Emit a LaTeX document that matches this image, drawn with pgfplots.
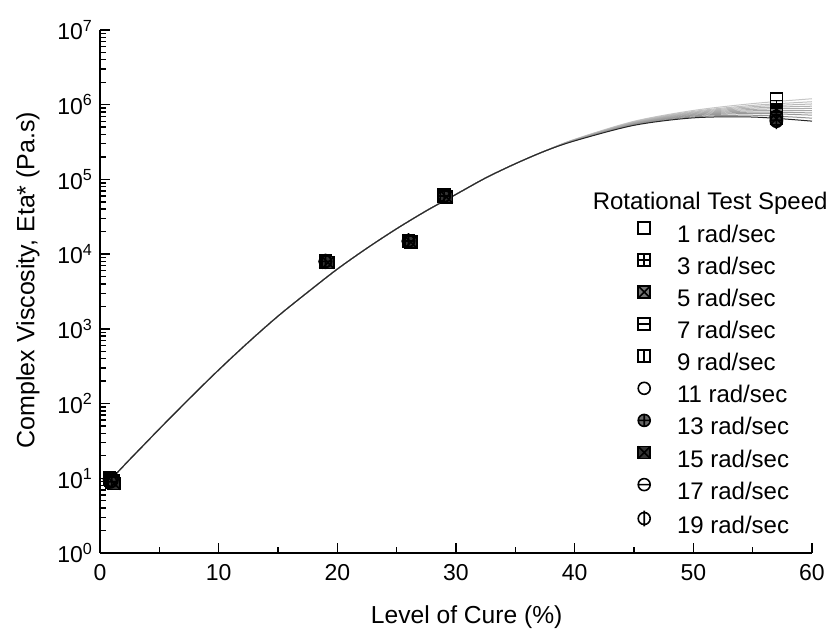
\documentclass[border=0pt]{standalone}
\usepackage{fontspec}
\setmainfont{Liberation Sans}
\usepackage{pgfplots}
\usepackage{pgfplotstable}
\pgfplotsset{compat=1.18}
\usetikzlibrary{plotmarks}

\pgfdeclareplotmark{sqplus}{%
  \pgfpathrectangle{\pgfqpoint{-\pgfplotmarksize}{-\pgfplotmarksize}}{\pgfqpoint{2\pgfplotmarksize}{2\pgfplotmarksize}}%
  \pgfpathmoveto{\pgfqpoint{-\pgfplotmarksize}{0pt}}\pgfpathlineto{\pgfqpoint{\pgfplotmarksize}{0pt}}%
  \pgfpathmoveto{\pgfqpoint{0pt}{-\pgfplotmarksize}}\pgfpathlineto{\pgfqpoint{0pt}{\pgfplotmarksize}}%
  \pgfusepathqstroke}
\pgfdeclareplotmark{sqtimesf}{%
  \pgfpathrectangle{\pgfqpoint{-\pgfplotmarksize}{-\pgfplotmarksize}}{\pgfqpoint{2\pgfplotmarksize}{2\pgfplotmarksize}}%
  \pgfusepathqfillstroke
  \pgfpathmoveto{\pgfqpoint{-\pgfplotmarksize}{-\pgfplotmarksize}}\pgfpathlineto{\pgfqpoint{\pgfplotmarksize}{\pgfplotmarksize}}%
  \pgfpathmoveto{\pgfqpoint{-\pgfplotmarksize}{\pgfplotmarksize}}\pgfpathlineto{\pgfqpoint{\pgfplotmarksize}{-\pgfplotmarksize}}%
  \pgfusepathqstroke}
\pgfdeclareplotmark{sqhline}{%
  \pgfpathrectangle{\pgfqpoint{-\pgfplotmarksize}{-\pgfplotmarksize}}{\pgfqpoint{2\pgfplotmarksize}{2\pgfplotmarksize}}%
  \pgfpathmoveto{\pgfqpoint{-\pgfplotmarksize}{0pt}}\pgfpathlineto{\pgfqpoint{\pgfplotmarksize}{0pt}}%
  \pgfusepathqstroke}
\pgfdeclareplotmark{sqvline}{%
  \pgfpathrectangle{\pgfqpoint{-\pgfplotmarksize}{-\pgfplotmarksize}}{\pgfqpoint{2\pgfplotmarksize}{2\pgfplotmarksize}}%
  \pgfpathmoveto{\pgfqpoint{0pt}{-\pgfplotmarksize}}\pgfpathlineto{\pgfqpoint{0pt}{\pgfplotmarksize}}%
  \pgfusepathqstroke}
\pgfdeclareplotmark{ohline}{%
  \pgfpathcircle{\pgfpointorigin}{\pgfplotmarksize}%
  \pgfpathmoveto{\pgfqpoint{-\pgfplotmarksize}{0pt}}\pgfpathlineto{\pgfqpoint{\pgfplotmarksize}{0pt}}%
  \pgfusepathqstroke}
\pgfdeclareplotmark{ovline}{%
  \pgfpathcircle{\pgfpointorigin}{\pgfplotmarksize}%
  \pgfpathmoveto{\pgfqpoint{0pt}{-1.3\pgfplotmarksize}}\pgfpathlineto{\pgfqpoint{0pt}{1.3\pgfplotmarksize}}%
  \pgfusepathqstroke}

\pgfplotsset{
  mk/.style={only marks, mark=#1, black, line width=0.8pt, mark size=3pt,
    legend image code/.code={\path (0pt,0pt) (22pt,0pt);
      \draw[##1] plot coordinates {(6pt,4.2pt)};}},
  cv/.style={no marks, smooth, line width=0.5pt, #1, forget plot}
}

\pgfplotstableread{
x c1 c2 c3 c4 c5 c6 c7 c8 c9 c10
0.5 8.32 8.32 8.32 8.32 8.32 8.32 8.32 8.32 8.32 8.32
1 10 10 10 10 10 10 10 10 10 10
2.5 17.8 17.8 17.8 17.8 17.8 17.8 17.8 17.8 17.8 17.8
5 45.7 45.7 45.7 45.7 45.7 45.7 45.7 45.7 45.7 45.7
7.5 115 115 115 115 115 115 115 115 115 115
10 282 282 282 282 282 282 282 282 282 282
12.5 661 661 661 661 661 661 661 661 661 661
15 1479 1479 1479 1479 1479 1479 1479 1479 1479 1479
17.5 3090 3090 3090 3090 3090 3090 3090 3090 3090 3090
20 6310 6310 6310 6310 6310 6310 6310 6310 6310 6310
22.5 12020 12020 12020 12020 12020 12020 12020 12020 12020 12020
25 21880 21880 21880 21880 21880 21880 21880 21880 21880 21880
27.5 38020 38020 38020 38020 38020 38020 38020 38020 38020 38020
30 63100 63100 63100 63100 63100 63100 63100 63100 63100 63100
32.5 104700 104700 104700 104700 104700 104700 104700 104700 104700 104700
35 162200 162200 162200 162200 162200 162200 162200 162200 162200 162200
37.5 239900 239900 239900 239900 239900 239900 239900 239900 239900 239900
40 344300 342000 340400 338800 337300 335700 334200 332700 330400 328100
45 599800 590200 582100 575400 568900 561000 554600 547000 538300 529700
50 837500 812800 794300 776200 758600 741300 724400 707900 687100 666800
55 1035000 979500 939700 901600 865000 829900 796200 763800 722800 683900
60 1202000 1096000 1023000 955000 891300 831800 776200 724400 660700 602600
}\curves

\begin{document}
\begin{tikzpicture}
\useasboundingbox (-50pt,-39pt) rectangle (365.5pt,276.5pt);
\begin{axis}[
  scale only axis, width=356pt, height=261.5pt,
  at={(0,0)}, anchor=south west,
  xmin=0, xmax=60, ymin=1, ymax=1e7, ymode=log,
  clip=false,
  axis lines=left, axis line style={-, line width=0.8pt},
  tick align=inside, major tick length=5pt, minor tick length=3pt,
  tick style={line width=0.7pt, black},
  xtick={0,10,20,30,40,50,60}, minor x tick num=1,
  ytick={1,10,100,1000,10000,100000,1000000,10000000},
  yticklabels={10\textsuperscript{0},10\textsuperscript{1},10\textsuperscript{2},10\textsuperscript{3},10\textsuperscript{4},10\textsuperscript{5},10\textsuperscript{6},10\textsuperscript{7}},
  tick label style={font=\fontsize{11.5}{13}\selectfont},
  xticklabel style={/pgf/number format/assume math mode=true, yshift=-2pt},
  xlabel={Level of Cure (\%)},
  ylabel={Complex Viscosity, Eta* (Pa.s)},
  every axis x label/.style={at={(axis description cs:0.515,0)}, yshift=-32pt, anchor=center, font=\fontsize{12.3}{14}\selectfont},
  every axis y label/.style={at={(axis description cs:0,0.522)}, xshift=-36pt, rotate=90, anchor=center, font=\fontsize{12.5}{14}\selectfont},
  legend style={draw=none, fill=none, at={(axis description cs:0.7458,0.634)}, anchor=north west,
    inner sep=0pt, row sep=3.3pt, column sep=0pt,
    nodes={inner sep=0pt, text height=8.6pt, text depth=2.5pt, font=\fontsize{12}{14}\selectfont}},
  legend cell align=left,
]
\addplot[cv={gray!45}] table[x=x, y=c1] {\curves};
\addplot[cv={gray!50}] table[x=x, y=c2] {\curves};
\addplot[cv={gray!55}] table[x=x, y=c3] {\curves};
\addplot[cv={gray!60}] table[x=x, y=c4] {\curves};
\addplot[cv={gray!65}] table[x=x, y=c5] {\curves};
\addplot[cv={gray!70}] table[x=x, y=c6] {\curves};
\addplot[cv={gray!75}] table[x=x, y=c7] {\curves};
\addplot[cv={gray!80}] table[x=x, y=c8] {\curves};
\addplot[cv={gray!85}] table[x=x, y=c9] {\curves};
\addplot[cv={black!85}] table[x=x, y=c10] {\curves};

\addplot[mk=square] coordinates {(0.9,9.5) (19,8200) (26,15000) (29,60000) (57,1200000)};
\addlegendentry{1 rad/sec}
\addplot[mk=sqplus] coordinates {(0.8,10) (19,8000) (26,14800) (29,61000) (57,950000)};
\addlegendentry{3 rad/sec}
\addplot[mk=sqtimesf, mark options={fill=black!55}] coordinates {(1.0,9) (19,7900) (26,15200) (29,59000) (57,850000)};
\addlegendentry{5 rad/sec}
\addplot[mk=sqhline] coordinates {(0.9,9.8) (19,8100) (26,14900) (29,60500) (57,800000)};
\addlegendentry{7 rad/sec}
\addplot[mk=sqvline] coordinates {(1.1,9.2) (19,7800) (26,15100) (29,61500) (57,750000)};
\addlegendentry{9 rad/sec}
\addplot[mk=o] coordinates {(0.8,9.6) (19,8000) (26,15000) (29,60000) (57,700000)};
\addlegendentry{11 rad/sec}
\addplot[mk=oplus*, mark options={fill=black!60}] coordinates {(1.0,8.8) (19,7900) (26,14700) (29,59500) (57,680000)};
\addlegendentry{13 rad/sec}
\addplot[mk=sqtimesf, mark options={fill=black!80}] coordinates {(1.2,8.5) (19.2,7700) (26.2,14500) (29.2,58000) (57,650000)};
\addlegendentry{15 rad/sec}
\addplot[mk=ohline] coordinates {(0.9,9) (19,8000) (26,15000) (29,60000) (57,620000)};
\addlegendentry{17 rad/sec}
\addplot[mk=ovline] coordinates {(1.0,9.3) (19,8000) (26,15000) (29,60000) (57,600000)};
\addlegendentry{19 rad/sec}

\node[font=\fontsize{12}{14}\selectfont, anchor=center] at (axis description cs:0.857,0.669) {Rotational Test Speed};
\end{axis}
\end{tikzpicture}
\end{document}
